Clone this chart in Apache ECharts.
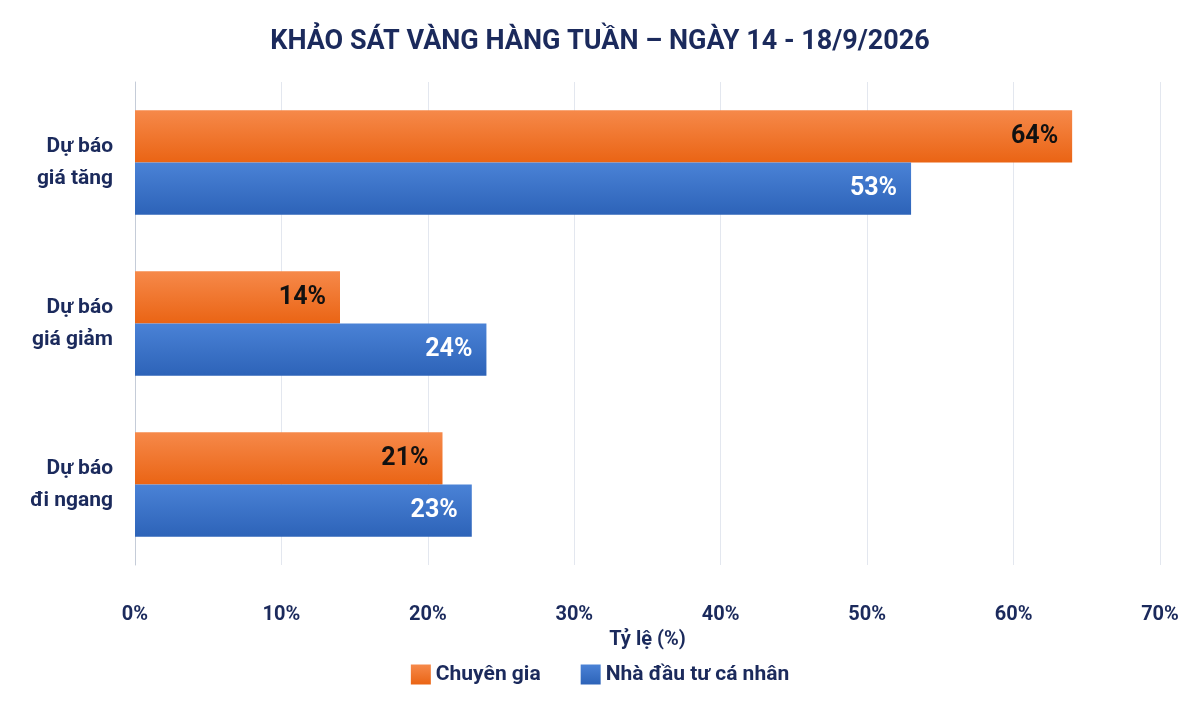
<!DOCTYPE html><html><head><meta charset="utf-8"><script src="https://cdn.jsdelivr.net/npm/echarts@6/dist/echarts.min.js"></script></head><body style="margin:0"><div id="c" style="width:1200px;height:720px"></div><script>
const categories=["Dự báo\ngiá tăng","Dự báo\ngiá giảm","Dự báo\nđi ngang"];
const experts=[64,14,21];
const investors=[53,24,23];
const ticks=[0,10,20,30,40,50,60,70];
const navy="#1b2a5c";
const c=echarts.init(document.getElementById('c'));
c.setOption({
 backgroundColor:"#fff",
 textStyle:{fontFamily:"Roboto"},
 title:{text:"KHẢO SÁT VÀNG HÀNG TUẦN – NGÀY 14 - 18/9/2026",left:"center",top:24,textStyle:{fontSize:27,fontWeight:"bold",color:navy,fontFamily:"Roboto"}},
 grid:{left:135,right:40,top:82,bottom:155},
 legend:{bottom:30,left:"center",itemWidth:20,itemHeight:20,itemGap:40,icon:"rect",textStyle:{fontSize:21,color:navy,fontWeight:"bold"},data:["Chuyên gia","Nhà đầu tư cá nhân"]},
 xAxis:{type:"value",min:0,max:70,interval:10,name:"Tỷ lệ (%)",nameLocation:"middle",nameGap:50,nameTextStyle:{fontSize:20,fontWeight:"bold",color:navy},
  axisLabel:{formatter:v=>v+"%",fontSize:20,fontWeight:"bold",color:navy,margin:40},splitLine:{lineStyle:{color:"#e3e7ef"}},axisLine:{show:false}},
 yAxis:{type:"category",inverse:true,data:categories,axisTick:{show:false},axisLine:{lineStyle:{color:"#c5ccd8"}},axisLabel:{fontSize:21,fontWeight:"bold",color:navy,lineHeight:32,margin:22}},
 series:[
  {name:"Chuyên gia",type:"bar",data:experts,barGap:"0%",barCategoryGap:"35%",itemStyle:{color:new echarts.graphic.LinearGradient(0,0,0,1,[{offset:0,color:"#f6894a"},{offset:1,color:"#ea6414"}])},
   label:{show:true,position:"insideRight",formatter:"{c}%",fontSize:25,fontWeight:"bold",color:"#111",distance:14}},
  {name:"Nhà đầu tư cá nhân",type:"bar",data:investors,itemStyle:{color:new echarts.graphic.LinearGradient(0,0,0,1,[{offset:0,color:"#4a82d6"},{offset:1,color:"#2d63b8"}])},
   label:{show:true,position:"insideRight",formatter:"{c}%",fontSize:25,fontWeight:"bold",color:"#fff",distance:14}}
 ]
});
</script></body></html>
